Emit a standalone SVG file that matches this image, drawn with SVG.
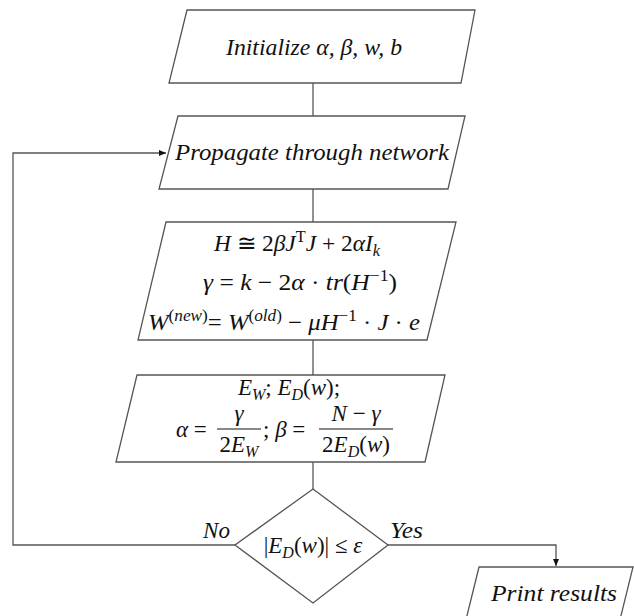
<svg xmlns="http://www.w3.org/2000/svg" width="634" height="616" viewBox="0 0 634 616">
<style>
.shape{fill:#fff;stroke:#555;stroke-width:1.3}
.conn{fill:none;stroke:#555;stroke-width:1.3}
.t{font-family:"Liberation Serif","DejaVu Serif",serif;font-style:italic;font-size:24px;fill:#111}
.m{font-family:"Liberation Serif","DejaVu Serif",serif;font-style:italic;font-size:23px;fill:#111}
.n{font-style:normal}
.s{font-size:16px}
</style>
<defs>
<marker id="arr" markerWidth="8" markerHeight="8" refX="7" refY="4" orient="auto" markerUnits="userSpaceOnUse">
<path d="M0,1 L7,4 L0,7 Z" fill="#111"/>
</marker>
</defs>
<rect width="634" height="616" fill="#fff"/>
<g id="connectors">
<line class="conn" x1="313" y1="83" x2="313" y2="116"/>
<line class="conn" x1="313" y1="189" x2="313" y2="222"/>
<line class="conn" x1="313" y1="340" x2="313" y2="375"/>
<line class="conn" x1="313" y1="462" x2="313" y2="489"/>
<polyline class="conn" points="235,545 13,545 13,153 166,153" marker-end="url(#arr)"/>
<polyline class="conn" points="388,545 556,545 556,566" marker-end="url(#arr)"/>
<text class="t" x="203" y="538" textLength="27" lengthAdjust="spacingAndGlyphs">No</text>
<text class="t" x="390" y="538" textLength="33" lengthAdjust="spacingAndGlyphs">Yes</text>
</g>
<g id="init">
<polygon class="shape" points="187,10 475,10 461,83 169,83"/>
<text class="t" x="314" y="55" text-anchor="middle" textLength="176" lengthAdjust="spacingAndGlyphs">Initialize α, β, w, b</text>
</g>
<g id="propagate">
<polygon class="shape" points="178,116 465,116 448,189 159,189"/>
<text class="t" x="312" y="160" text-anchor="middle" textLength="274" lengthAdjust="spacingAndGlyphs">Propagate through network</text>
</g>
<g id="update">
<polygon class="shape" points="166,222 456,222 427,340 138,340"/>
<text class="m" x="297" y="251" text-anchor="middle" textLength="166" lengthAdjust="spacingAndGlyphs">H <tspan class="n">≅ 2</tspan>βJ<tspan class="s n" dy="-9">T</tspan><tspan dy="9">J </tspan><tspan class="n">+ 2</tspan>αI<tspan class="s" dy="5">k</tspan></text>
<text class="m" x="300" y="290" text-anchor="middle" textLength="194" lengthAdjust="spacingAndGlyphs">γ <tspan class="n">=</tspan> k <tspan class="n">− 2</tspan>α <tspan class="n">·</tspan> tr<tspan class="n">(</tspan>H<tspan class="s n" dy="-9">−1</tspan><tspan class="n" dy="9">)</tspan></text>
<text class="m" x="284" y="330" text-anchor="middle" textLength="272" lengthAdjust="spacingAndGlyphs">W<tspan class="s n" dy="-9">(</tspan><tspan class="s">new</tspan><tspan class="s n">)</tspan><tspan class="n" dy="9">= </tspan>W<tspan class="s n" dy="-9">(</tspan><tspan class="s">old</tspan><tspan class="s n">)</tspan><tspan class="n" dy="9"> − </tspan>μH<tspan class="s n" dy="-9">−1</tspan><tspan class="n" dy="9"> · </tspan>J<tspan class="n"> · </tspan>e</text>
</g>
<g id="hyper">
<polygon class="shape" points="137,375 445,375 425,462 116,462"/>
<text class="m" x="289" y="395" text-anchor="middle">E<tspan class="s" dy="5">W</tspan><tspan class="n" dy="-5">; </tspan>E<tspan class="s" dy="5">D</tspan><tspan class="n" dy="-5">(</tspan>w<tspan class="n">);</tspan></text>
<text class="m" x="176" y="437">α <tspan class="n">=</tspan></text>
<text class="m" x="239" y="421" text-anchor="middle">γ</text>
<line x1="217" y1="429" x2="261" y2="429" stroke="#111" stroke-width="1"/>
<text class="m" x="239" y="452" text-anchor="middle"><tspan class="n">2</tspan>E<tspan class="s" dy="5">W</tspan></text>
<text class="m" x="263" y="437"><tspan class="n">; </tspan>β <tspan class="n">=</tspan></text>
<text class="m" x="356" y="421" text-anchor="middle">N <tspan class="n">−</tspan> γ</text>
<line x1="319" y1="429" x2="393" y2="429" stroke="#111" stroke-width="1"/>
<text class="m" x="356" y="452" text-anchor="middle"><tspan class="n">2</tspan>E<tspan class="s" dy="5">D</tspan><tspan class="n" dy="-5">(</tspan>w<tspan class="n">)</tspan></text>
</g>
<g id="decision">
<polygon class="shape" points="313,489 388,545 313,603 235,545"/>
<text class="m" x="313" y="553" text-anchor="middle"><tspan class="n">|</tspan>E<tspan class="s" dy="5">D</tspan><tspan class="n" dy="-5">(</tspan>w<tspan class="n">)| ≤ </tspan>ε</text>
</g>
<g id="print">
<polygon class="shape" points="479,567 633,567 615,640 461,640"/>
<text class="t" x="491" y="601" textLength="126" lengthAdjust="spacingAndGlyphs">Print results</text>
</g>
</svg>
